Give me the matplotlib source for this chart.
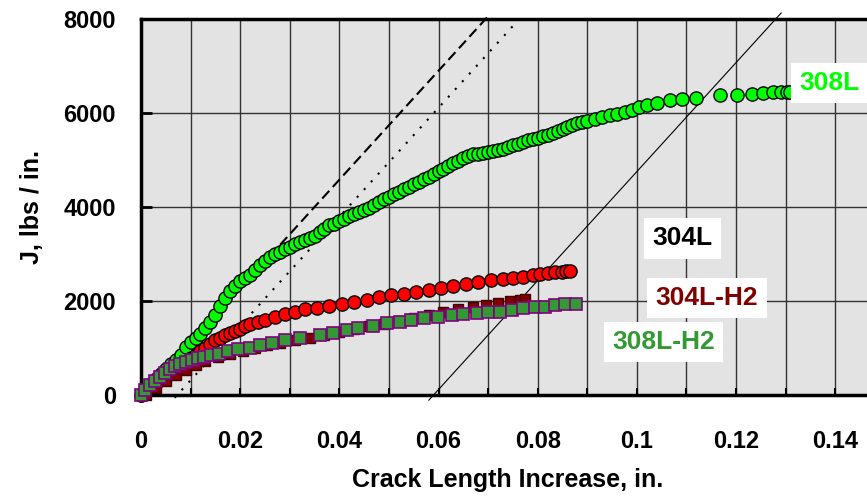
import matplotlib
matplotlib.use("Agg")
import matplotlib.pyplot as plt
import numpy as np
from matplotlib.ticker import FuncFormatter, MultipleLocator

plt.rcParams['font.family'] = ['Liberation Sans', 'DejaVu Sans']
plt.rcParams['font.weight'] = 'bold'

# 308L (green circles)
g_x = [0, 0.001, 0.002, 0.003, 0.004, 0.005, 0.006, 0.007, 0.008, 0.009,
       0.010, 0.011, 0.012, 0.013, 0.014, 0.015, 0.016, 0.017, 0.018, 0.019,
       0.020, 0.021, 0.022, 0.023, 0.024, 0.025, 0.026, 0.027, 0.028, 0.029,
       0.030, 0.031, 0.032, 0.033, 0.034, 0.035, 0.036, 0.037, 0.038, 0.039,
       0.040, 0.041, 0.042, 0.043, 0.044, 0.045, 0.046, 0.047, 0.048, 0.049,
       0.050, 0.051, 0.052, 0.053, 0.054, 0.055, 0.056, 0.057, 0.058, 0.059,
       0.060, 0.061, 0.062, 0.063, 0.064, 0.065, 0.066, 0.067, 0.068, 0.069,
       0.070, 0.071, 0.072, 0.073, 0.074, 0.075, 0.076, 0.077, 0.078, 0.079,
       0.080, 0.081, 0.082, 0.083, 0.084, 0.085, 0.086, 0.087, 0.088, 0.089,
       0.090, 0.0915, 0.093, 0.0945, 0.096, 0.0975, 0.099, 0.1005, 0.102, 0.104,
       0.1066, 0.109, 0.112, 0.1167, 0.1202, 0.1232, 0.1254, 0.1275, 0.129, 0.1302,
       0.1308]
g_j = [0, 110, 230, 340, 440, 550, 650, 750, 850, 1020,
       1120, 1210, 1300, 1420, 1560, 1700, 1900, 2060, 2220, 2330,
       2420, 2490, 2560, 2650, 2760, 2860, 2940, 3000, 3050, 3100,
       3160, 3220, 3260, 3300, 3340, 3390, 3470, 3540, 3610, 3650,
       3700, 3750, 3800, 3850, 3890, 3930, 3990, 4050, 4110, 4170,
       4220, 4270, 4320, 4380, 4430, 4490, 4540, 4600, 4650, 4710,
       4760, 4820, 4870, 4930, 4980, 5040, 5090, 5120, 5140, 5160,
       5180, 5200, 5210, 5230, 5280, 5320, 5350, 5390, 5420, 5450,
       5480, 5510, 5540, 5580, 5620, 5660, 5710, 5750, 5790, 5810,
       5840, 5870, 5910, 5950, 5990, 6030, 6070, 6120, 6170, 6220,
       6277, 6290, 6320, 6383, 6383, 6404, 6426, 6440, 6445, 6450,
       6450]

# 304L (red circles)
r_x = [0, 0.001, 0.002, 0.003, 0.004, 0.005, 0.006, 0.007, 0.008, 0.009,
       0.010, 0.011, 0.012, 0.013, 0.014, 0.015, 0.016, 0.017, 0.018, 0.019,
       0.020, 0.021, 0.022, 0.0235, 0.025, 0.027, 0.029, 0.031, 0.033, 0.0355,
       0.038, 0.0405, 0.043, 0.0455, 0.048, 0.0505, 0.053, 0.0555, 0.058, 0.0605,
       0.063, 0.0655, 0.068, 0.0705, 0.073, 0.075, 0.077, 0.079, 0.0805, 0.082,
       0.0835, 0.0848, 0.0858, 0.0865]
r_j = [0, 90, 180, 260, 340, 420, 490, 560, 630, 700,
       780, 860, 930, 1000, 1080, 1160, 1220, 1270, 1320, 1360,
       1410, 1460, 1510, 1550, 1590, 1650, 1720, 1770, 1820, 1860,
       1900, 1930, 1970, 2020, 2080, 2120, 2160, 2200, 2240, 2280,
       2320, 2360, 2400, 2440, 2470, 2490, 2520, 2550, 2570, 2600,
       2610, 2620, 2630, 2640]

# 304L-H2 (dark red squares)
d_x = [0.001, 0.003, 0.005, 0.007, 0.009, 0.011, 0.013, 0.0155, 0.018, 0.0205,
       0.023, 0.0255, 0.028, 0.031, 0.034, 0.037, 0.040, 0.043, 0.046, 0.049,
       0.052, 0.055, 0.058, 0.061, 0.064, 0.067, 0.0695, 0.072, 0.0745, 0.0765,
       0.0775]
d_j = [0, 150, 300, 430, 540, 640, 720, 800, 870, 940,
       1000, 1060, 1110, 1160, 1220, 1280, 1340, 1400, 1460, 1520,
       1580, 1640, 1700, 1760, 1820, 1870, 1920, 1960, 2000, 2030,
       2050]

# 308L-H2 (green squares)
s_x = [0, 0.0008, 0.0018, 0.0028, 0.0038, 0.0048, 0.0058, 0.0068, 0.0078, 0.009,
       0.0102, 0.0115, 0.0128, 0.0142, 0.0157, 0.0175, 0.0195, 0.022, 0.024, 0.0265,
       0.029, 0.032, 0.036, 0.0387, 0.0415, 0.0438, 0.0468, 0.0496, 0.0522, 0.0545,
       0.057, 0.0599, 0.0627, 0.065, 0.0677, 0.070, 0.0724, 0.0748, 0.077, 0.0794,
       0.0815, 0.0835, 0.0855, 0.0878]
s_j = [0, 100, 213, 300, 383, 470, 560, 610, 650, 700,
       745, 780, 810, 850, 880, 930, 980, 1000, 1060, 1100,
       1170, 1210, 1280, 1320, 1380, 1420, 1470, 1530, 1555, 1600,
       1640, 1660, 1700, 1720, 1745, 1765, 1770, 1810, 1850, 1870,
       1875, 1910, 1935, 1940]

# construction lines: x-intercepts, common slope, J range
line_offsets = [0.0005, 0.0073, 0.059]
line_slope = 116000
line_j_start = [0, -60, -110]
line_j_end = [8100, 8130, 8130]
line_styles = [(0, (5, 2.5)), (0, (1, 4)), '-']
line_widths = [1.5, 1.5, 0.8]

labels = ["308L", "304L", "304L-H2", "308L-H2"]
label_colors = ["#00FF00", "black", "#800000", "#339933"]
label_x = [0.1389, 0.1091, 0.1141, 0.1054]
label_y = [6640, 3340, 2064, 1128]

fig = plt.figure(figsize=(8.67, 5.01), dpi=100)
ax = fig.add_axes([0.1626, 0.2116, 0.858, 0.7502])
ax.set_facecolor("#E3E3E3")
ax.set_xlim(0, 0.15)
ax.set_ylim(0, 8000)

for off, js, je, ls, lw in zip(line_offsets, line_j_start, line_j_end, line_styles, line_widths):
    jj = np.array([js, je])
    ax.plot(off + jj / line_slope, jj, color="black", linestyle=ls, lw=lw,
            clip_on=False, zorder=2)

ax.plot(g_x, g_j, 'o', ms=9.5, mfc="#00FF00", mec="black", mew=1, zorder=3, clip_on=False)
ax.plot(r_x, r_j, 'o', ms=9.5, mfc="#FF0000", mec="black", mew=1, zorder=4, clip_on=False)
ax.plot(d_x, d_j, 's', ms=7.5, mfc="#800000", mec="#400000", mew=1, zorder=5, clip_on=False)
ax.plot(s_x, s_j, 's', ms=8, mfc="#339933", mec="#800080", mew=1.2, zorder=6, clip_on=False)

for t, c, x, y in zip(labels, label_colors, label_x, label_y):
    ax.text(x, y, t, color=c, fontsize=19, fontweight='bold', ha='center', va='center',
            bbox=dict(facecolor='white', edgecolor='none', pad=6), zorder=7, clip_on=False)

ax.xaxis.set_major_locator(MultipleLocator(0.02))
ax.xaxis.set_minor_locator(MultipleLocator(0.01))
ax.yaxis.set_major_locator(MultipleLocator(2000))
ax.xaxis.set_major_formatter(FuncFormatter(lambda v, p: "%g" % round(v, 3)))
ax.grid(True, which='both', axis='x', color="#333333", lw=1)
ax.grid(True, which='major', axis='y', color="#333333", lw=1)
ax.set_axisbelow(True)

ax.tick_params(axis='x', which='both', direction='in', length=5, width=1.5, pad=25,
               labelsize=17)
ax.tick_params(axis='y', which='major', direction='in', length=8, width=2, pad=18,
               labelsize=17)
for lbl in ax.get_xticklabels() + ax.get_yticklabels():
    lbl.set_fontweight('bold')

for s in ['left', 'bottom', 'top']:
    ax.spines[s].set_linewidth(2.5)
    ax.spines[s].set_color('black')
ax.spines['right'].set_visible(False)

ax.set_xlabel("Crack Length Increase, in.", fontsize=18, fontweight='bold')
ax.set_ylabel("J, lbs / in.", fontsize=18, fontweight='bold', labelpad=14)
ax.xaxis.set_label_coords((508 - 141) / 744, -0.195)

fig.savefig("out.png", dpi=100)
